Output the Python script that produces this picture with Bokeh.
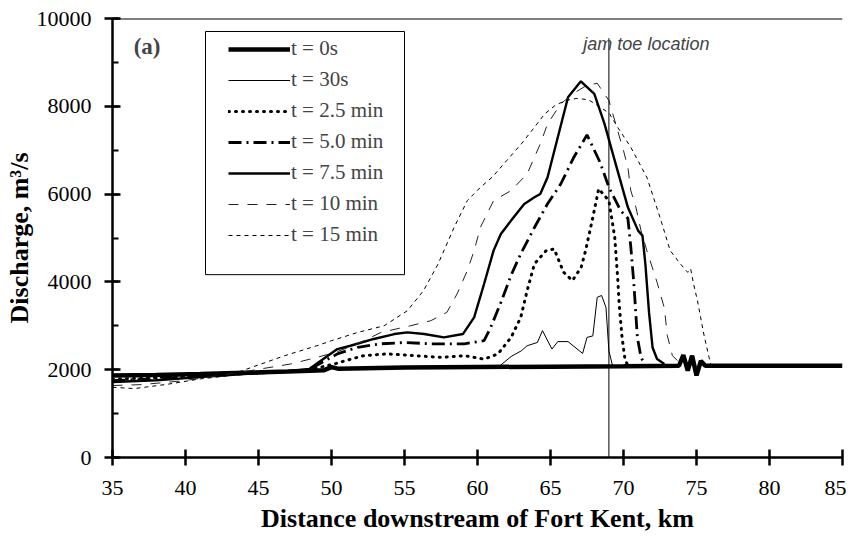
from bokeh.plotting import figure
from bokeh.models import Range1d, Span, Label, Legend, LegendItem, SingleIntervalTicker, BoxAnnotation
from bokeh.embed import file_html
from bokeh.resources import INLINE

# ---- data (km downstream of Fort Kent, discharge m3/s) ----
x0 = [35, 38, 41, 44, 47, 49.5, 50.0, 50.5, 55, 60, 65, 70, 73.8, 74.1, 74.4, 74.7, 75.0, 75.3, 75.6, 80, 85]
y0 = [1870, 1880, 1900, 1930, 1960, 1990, 2060, 2020, 2050, 2060, 2070, 2080, 2090, 2330, 1980, 2320, 1870, 2200, 2090, 2090, 2090]

x30 = [35, 40, 45, 50, 55, 60, 61.5, 62.3, 63.0, 63.4, 64.1, 64.45, 65.1, 65.5, 66.2, 67.2, 67.5, 67.9, 68.2, 68.5, 68.8, 69.0, 69.25, 70]
y30 = [1850, 1880, 1920, 2020, 2050, 2060, 2080, 2300, 2430, 2546, 2620, 2890, 2470, 2640, 2640, 2370, 2735, 2770, 3650, 3690, 3420, 2430, 2090, 2080]

x25 = [35, 38, 41, 44, 47, 48.5, 50.2, 50.9, 52.2, 53.8, 55.7, 57.5, 59.1, 60.45, 61.4, 62.3, 62.96, 63.4, 63.9, 64.7, 65.25, 65.9, 66.5, 67.1, 67.4, 67.9, 68.3, 69.0, 69.4, 69.6, 69.7, 69.9, 70.1, 70.3]
y25 = [1780, 1820, 1870, 1920, 1960, 2000, 2130, 2200, 2320, 2360, 2320, 2280, 2320, 2240, 2360, 2735, 3190, 3800, 4410, 4710, 4750, 4220, 4030, 4330, 4710, 5470, 6120, 5850, 5015, 4100, 3500, 2735, 2240, 2090]

x50 = [35, 38, 41, 44, 47, 48.5, 50.4, 51.8, 53.4, 55.0, 56.8, 59.1, 60.45, 60.9, 61.6, 62.3, 62.96, 63.9, 64.8, 65.7, 66.6, 67.5, 68.4, 69.0, 69.8, 70.3, 70.5, 70.7, 70.8, 70.95, 71.2, 71.4]
y50 = [1750, 1790, 1850, 1910, 1960, 2010, 2360, 2510, 2590, 2620, 2590, 2590, 2660, 2960, 3530, 4150, 4640, 5240, 5780, 6230, 6840, 7350, 6720, 6155, 5624, 5450, 4800, 4000, 3500, 2735, 2280, 2160]

x75 = [35, 38, 41, 44, 47, 48.5, 50.4, 51.3, 52.9, 54.3, 55.2, 56.35, 57.7, 59.0, 59.77, 60.45, 61.1, 61.6, 62.3, 63.2, 63.9, 64.3, 64.8, 65.5, 66.2, 67.08, 68.0, 68.7, 69.4, 70.3, 71.0, 71.3, 71.5, 71.75, 71.99, 72.3, 72.8]
y75 = [1720, 1760, 1830, 1900, 1960, 2020, 2470, 2546, 2700, 2812, 2850, 2812, 2735, 2812, 3191, 3952, 4712, 5092, 5396, 5776, 5927, 6004, 6383, 7294, 8206, 8570, 8283, 7600, 6763, 5699, 5168, 5054, 4400, 3300, 2507, 2243, 2129]

x10 = [35, 37, 39.9, 43, 47.2, 49.0, 50.2, 51.5, 53.4, 55.4, 56.8, 57.9, 58.6, 59.3, 59.77, 60.2, 61.1, 62.3, 63.4, 64.3, 64.8, 65.7, 66.6, 67.5, 68.2, 69.0, 69.6, 70.0, 70.3, 70.5, 70.85, 71.2, 71.6, 72.3, 72.8, 73.0, 73.35, 73.7]
y10 = [1640, 1660, 1750, 1900, 2130, 2280, 2390, 2546, 2850, 3000, 3116, 3305, 3725, 4256, 4712, 5243, 5851, 6080, 6460, 7143, 7600, 8055, 8300, 8480, 8525, 8131, 7447, 6990, 6610, 6080, 5699, 5168, 4712, 3990, 3400, 2780, 2320, 2204]

x15 = [35, 36.5, 38.8, 41.0, 42.9, 44.5, 46.8, 49.0, 50.0, 51.8, 53.6, 55.2, 56.3, 57.3, 58.4, 59.3, 60.2, 61.0, 62.0, 63.0, 63.9, 64.6, 65.3, 66.0, 66.8, 67.6, 68.3, 69.0, 69.6, 70.5, 71.6, 72.5, 73.2, 73.9, 74.4, 74.6, 74.8, 75.07, 75.5, 75.86, 76.0]
y15 = [1600, 1570, 1670, 1790, 1860, 2050, 2320, 2546, 2660, 2850, 3000, 3344, 3800, 4408, 5243, 5851, 6155, 6383, 6763, 7143, 7522, 7826, 8015, 8130, 8180, 8150, 8000, 7850, 7522, 7066, 6383, 5471, 4712, 4408, 4217, 4300, 3952, 3565, 2812, 2280, 2100]

jam_x = [69.0, 69.0]
jam_y = [-150, 9550]

labels = ["t = 0s", "t = 30s", "t = 2.5 min", "t = 5.0 min", "t = 7.5 min", "t = 10 min", "t = 15 min"]

SERIF = "Liberation Serif"

p = figure(width=846, height=537, output_backend="svg", toolbar_location=None,
           x_range=Range1d(35, 85), y_range=Range1d(0, 10000),
           min_border_left=112, min_border_right=4, min_border_top=18, min_border_bottom=80)
p.background_fill_color = "white"
p.border_fill_color = "white"
p.outline_line_color = None
p.xgrid.visible = False
p.ygrid.visible = False

r0 = p.line(x0, y0, line_color="black", line_width=4.5)
r30 = p.line(x30, y30, line_color="black", line_width=1)
r25 = p.line(x25, y25, line_color="black", line_width=3, line_dash="1 6", line_cap="round")
r50 = p.line(x50, y50, line_color="black", line_width=2.8, line_dash="13 5 2 5")
r75 = p.line(x75, y75, line_color="black", line_width=2.4)
r10 = p.line(x10, y10, line_color="#222222", line_width=1, line_dash="10 9")
r15 = p.line(x15, y15, line_color="black", line_width=1, line_dash="4 4")
p.line(jam_x, jam_y, line_color="black", line_width=1)

p.add_layout(Span(location=10000, dimension="width", line_color="black", line_width=2))

# axes
p.xaxis.ticker = SingleIntervalTicker(interval=5, num_minor_ticks=0)
p.yaxis.ticker = SingleIntervalTicker(interval=2000, num_minor_ticks=2)
for ax in (p.xaxis[0], p.yaxis[0]):
    ax.axis_line_width = 2.5
    ax.axis_line_color = "black"
    ax.major_tick_line_width = 2.5
    ax.major_tick_line_color = "black"
    ax.major_tick_in = 8
    ax.major_tick_out = 8
    ax.major_label_text_font = SERIF
    ax.major_label_text_font_size = "22px"
    ax.major_label_text_color = "black"
    ax.axis_label_text_font = SERIF
    ax.axis_label_text_font_style = "bold"
    ax.axis_label_text_font_size = "26px"
    ax.axis_label_text_color = "black"
p.yaxis.minor_tick_line_width = 2
p.yaxis.minor_tick_line_color = "black"
p.yaxis.minor_tick_in = 6
p.yaxis.minor_tick_out = 0
p.yaxis.major_label_standoff = 13
p.xaxis.major_label_standoff = 15
p.xaxis.axis_label = "Distance downstream of Fort Kent, km"
p.yaxis.axis_label = "Discharge, m³/s"
p.xaxis.axis_label_standoff = 6
p.yaxis.axis_label_standoff = 0

# legend frame (drawn separately so entries can sit high inside it)
p.add_layout(BoxAnnotation(left=41.37, right=55.0, top=9704, bottom=4165,
                           fill_color="white", fill_alpha=1,
                           line_color="black", line_width=1, line_alpha=1))

legend = Legend(items=[LegendItem(label=l, renderers=[r]) for l, r in
                       zip(labels, [r0, r30, r25, r50, r75, r10, r15])],
                location=(116, 210), orientation="vertical",
                border_line_color=None, background_fill_alpha=0,
                label_text_font=SERIF, label_text_font_size="21px",
                glyph_width=62, glyph_height=22, label_height=22,
                label_standoff=1, spacing=6, padding=0, margin=0)
p.add_layout(legend)

p.add_layout(Label(x=36.45, y=9640, text="(a)", text_font=SERIF, text_font_style="bold",
                   text_font_size="23px", text_baseline="top"))
p.add_layout(Label(x=67.25, y=9640, text="jam toe location", text_font="Liberation Sans",
                   text_font_style="italic", text_font_size="18px", text_baseline="top"))

open("out.html", "w").write(file_html(p, INLINE))
